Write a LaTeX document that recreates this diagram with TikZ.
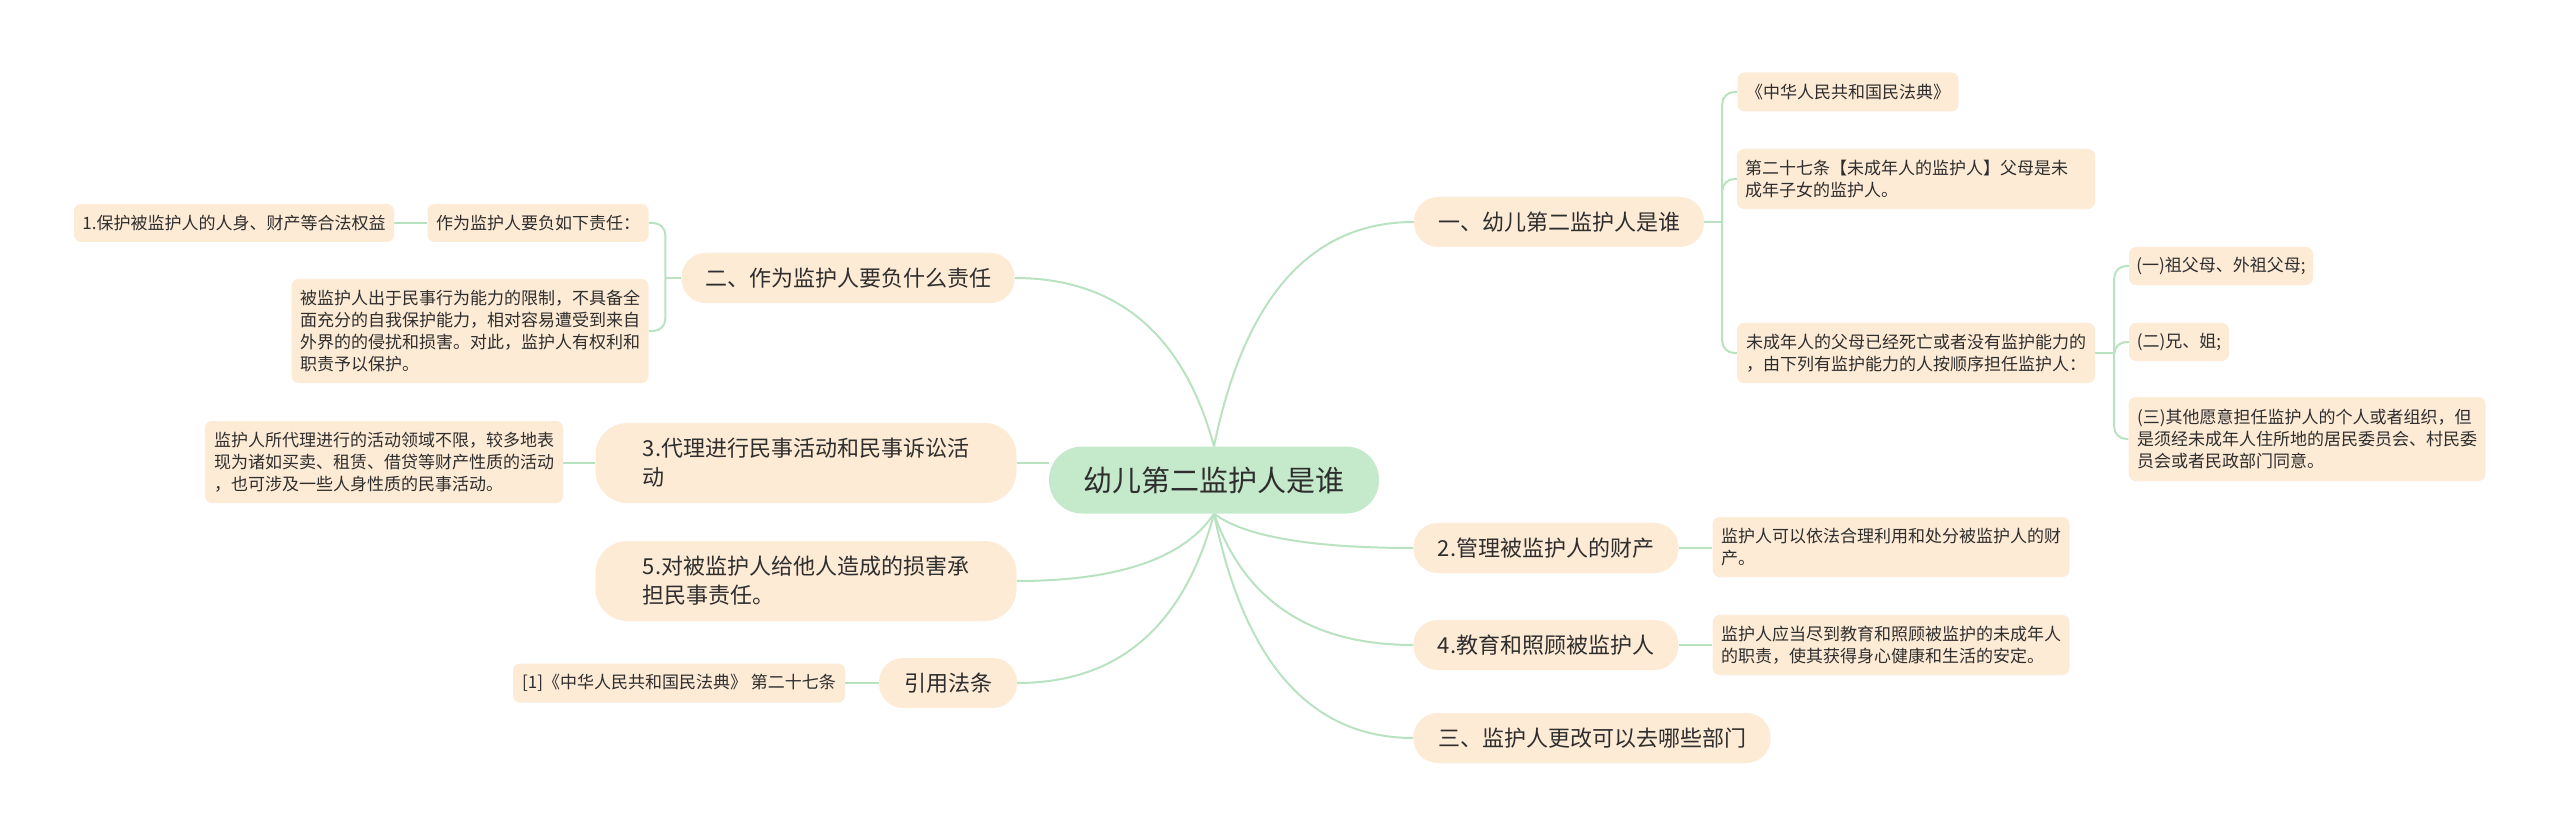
\documentclass[tikz,border=0pt]{standalone}
\usepackage{fontspec}
\setmainfont{Noto Sans CJK SC}
\usetikzlibrary{calc,backgrounds}
\definecolor{peach}{HTML}{FDEBD5}
\definecolor{mint}{HTML}{C5E9CB}
\definecolor{edgec}{HTML}{B8E2C0}
\definecolor{txt}{HTML}{2E2E2E}
\begin{document}
\begin{tikzpicture}[x=1pt,y=-1pt,
  base/.style={fill=peach, text=txt, inner sep=0pt, anchor=center},
  root/.style={base, fill=mint, rounded corners=33pt, minimum height=67pt, minimum width=330pt, font=\fontsize{29}{36}\selectfont},
  mainb/.style={base, rounded corners=24pt, minimum height=50pt, font=\fontsize{22}{29}\selectfont, align=left},
  mainbb/.style={base, rounded corners=32pt, minimum height=80pt, font=\fontsize{22}{29}\selectfont, align=left},
  leaf/.style={base, rounded corners=7pt, font=\fontsize{17}{22}\selectfont, align=left},
  link/.style={draw=edgec, line width=2pt},
  mcurve/.style={to path={let \p1=(\tikztostart), \p2=(\tikztotarget) in
     .. controls ({\x1+0.153*(\x2-\x1)},{\y1+0.667*(\y2-\y1)}) and ({\x2-0.513*(\x2-\x1)},\y2) .. (\tikztotarget)}},
  bracket/.style={link, rounded corners=12pt}
]
\useasboundingbox (0,0) rectangle (2560,837);

% root
\node[root] (c) at (1214,480) {幼儿第二监护人是谁};

% left main branches
\node[mainb, minimum width=333pt] (L2) at (848,278) {二、作为监护人要负什么责任};
\node[mainbb, minimum width=421pt] (L3) at (806,463) {3.代理进行民事活动和民事诉讼活\\动};
\node[mainbb, minimum width=421pt] (L5) at (806,581) {5.对被监护人给他人造成的损害承\\担民事责任。};
\node[mainb, minimum width=138pt] (LR) at (948,683) {引用法条};

% left leaves
\node[leaf, minimum width=221pt, minimum height=38pt] (A1) at (538,223) {作为监护人要负如下责任：};
\node[leaf, minimum width=320pt, minimum height=38pt] (A11) at (234,223) {1.保护被监护人的人身、财产等合法权益};
\node[leaf, minimum width=357pt, minimum height=104pt] (A2) at (470,331) {被监护人出于民事行为能力的限制，不具备全\\面充分的自我保护能力，相对容易遭受到来自\\外界的的侵扰和损害。对此，监护人有权利和\\职责予以保护。};
\node[leaf, minimum width=358pt, minimum height=82pt] (B1) at (384,462) {监护人所代理进行的活动领域不限，较多地表\\现为诸如买卖、租赁、借贷等财产性质的活动\\，也可涉及一些人身性质的民事活动。};
\node[leaf, minimum width=332pt, minimum height=39pt] (RF) at (679,683) {[1]《中华人民共和国民法典》 第二十七条};

% right main branches
\node[mainb, minimum width=290pt] (R1) at (1559,222) {一、幼儿第二监护人是谁};
\node[mainb, minimum width=265pt] (R2) at (1546,548) {2.管理被监护人的财产};
\node[mainb, minimum width=265pt] (R4) at (1546,645) {4.教育和照顾被监护人};
\node[mainb, minimum width=357pt] (R3) at (1592,738) {三、监护人更改可以去哪些部门};

% right leaves
\node[leaf, minimum width=221pt, minimum height=39pt] (K1) at (1848,92) {《中华人民共和国民法典》};
\node[leaf, minimum width=358pt, minimum height=60pt, text width=342pt] (K2) at (1916,179) {第二十七条【未成年人的监护人】父母是未\\成年子女的监护人。};
\node[leaf, minimum width=358pt, minimum height=60pt] (K3) at (1916,353) {未成年人的父母已经死亡或者没有监护能力的\\，由下列有监护能力的人按顺序担任监护人：};
\node[leaf, minimum width=184pt, minimum height=38pt] (M1) at (2221,266) {(一)祖父母、外祖父母;};
\node[leaf, minimum width=100pt, minimum height=38pt] (M2) at (2179,342) {(二)兄、姐;};
\node[leaf, minimum width=357pt, minimum height=84pt] (M3) at (2307,439) {(三)其他愿意担任监护人的个人或者组织，但\\是须经未成年人住所地的居民委员会、村民委\\员会或者民政部门同意。};
\node[leaf, minimum width=357pt, minimum height=60pt] (P1) at (1891,547) {监护人可以依法合理利用和处分被监护人的财\\产。};
\node[leaf, minimum width=357pt, minimum height=60pt] (P2) at (1891,645) {监护人应当尽到教育和照顾被监护的未成年人\\的职责，使其获得身心健康和生活的安定。};

\begin{scope}[on background layer]
  % root connectors
  \draw[link] (c.north) to[mcurve] (R1.west);
  \draw[link] (c.north) to[mcurve] (L2.east);
  \draw[link] (c.west |- L3.east) -- (L3.east);
  \draw[link] (c.south) to[mcurve] (L5.east);
  \draw[link] (c.south) to[mcurve] (LR.east);
  \draw[link] (c.south) to[mcurve] (R2.west);
  \draw[link] (c.south) to[mcurve] (R4.west);
  \draw[link] (c.south) to[mcurve] (R3.west);
  % brackets right
  \draw[link] (R1.east) -- ++(18,0);
  \draw[bracket] (R1.east) ++(18,0) |- (K1.west);
  \draw[bracket] (R1.east) ++(18,0) |- (K2.west);
  \draw[bracket] (R1.east) ++(18,0) |- (K3.west);
  \draw[link] (K3.east) -- ++(19,0);
  \draw[bracket] (K3.east) ++(19,0) |- (M1.west);
  \draw[bracket] (K3.east) ++(19,0) |- (M2.west);
  \draw[bracket] (K3.east) ++(19,0) |- (M3.west);
  % brackets left
  \draw[link] (L2.west) -- ++(-16,0);
  \draw[bracket] (L2.west) ++(-16,0) |- (A1.east);
  \draw[bracket] (L2.west) ++(-16,0) |- (A2.east);
  % single children
  \draw[link] (A1.west) -- (A11.east);
  \draw[link] (L3.west) -- (L3.west -| B1.east);
  \draw[link] (LR.west) -- (RF.east);
  \draw[link] (R2.east) -- (R2.east -| P1.west);
  \draw[link] (R4.east) -- (R4.east -| P2.west);
\end{scope}
\end{tikzpicture}
\end{document}
